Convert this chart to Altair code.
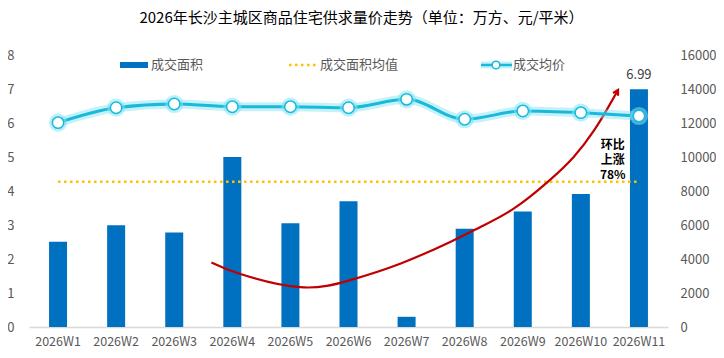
import altair as alt
import pandas as pd

FONT = "Noto Sans CJK SC"

weeks = ["2026W1", "2026W2", "2026W3", "2026W4", "2026W5", "2026W6",
         "2026W7", "2026W8", "2026W9", "2026W10", "2026W11"]
area = [2.51, 2.99, 2.78, 5.00, 3.05, 3.70, 0.30, 2.89, 3.40, 3.91, 6.99]
price = [12020, 12900, 13120, 12960, 12960, 12900, 13390, 12220, 12710, 12610, 12410]
area_avg = 4.27

# annotation arrow (x = week index, y = left-axis units)
arrow_x = [2.64, 3.14, 4.17, 5.03, 5.90, 6.76, 7.28, 7.85, 8.43, 8.88, 9.23, 9.46, 9.64]
arrow_y = [1.90, 1.56, 1.17, 1.38, 1.87, 2.51, 2.95, 3.49, 4.27, 5.01, 5.79, 6.43, 6.97]
note_lines = ["环比", "上涨", "78%"]
note_x = 9.55
note_y = [5.34, 4.91, 4.48]

left_ticks = [0, 1, 2, 3, 4, 5, 6, 7, 8]
right_ticks = [0, 2000, 4000, 6000, 8000, 10000, 12000, 14000, 16000]
legend_labels = ["成交面积", "成交面积均值", "成交均价"]
title_text = "2026年长沙主城区商品住宅供求量价走势（单位：万方、元/平米）"

BAR = "#0070c0"
GOLD = "#ffc000"
CYAN = "#19b9d9"
GLOW = "#7fe3f4"
RED = "#c00000"
GRAY = "#595959"

df = pd.DataFrame({"week": weeks, "area": area, "price": price})
avg_df = pd.DataFrame({"week": [weeks[0], weeks[-1]], "v": [area_avg, area_avg]})
arrow_df = pd.DataFrame({"ax": arrow_x, "ay": arrow_y, "o": list(range(len(arrow_x)))})
tip_df = arrow_df.tail(1)
last_df = df.tail(1)
note_df = pd.DataFrame({"nx": [note_x] * len(note_lines), "ny": note_y, "t": note_lines})
one = pd.DataFrame({"a": [0]})

xs = alt.Scale(domain=weeks, paddingInner=0, paddingOuter=0)
xq = alt.Scale(domain=[-0.5, 10.5], nice=False, zero=False)
yl = alt.Scale(domain=[0, 8], nice=False)
yr = alt.Scale(domain=[0, 16000], nice=False)

x_axis = alt.Axis(title=None, labelAngle=0, labelFont=FONT, labelFontSize=12.5,
                  labelColor=GRAY, domainColor="#d9d9d9", domainWidth=1.5,
                  ticks=False, labelPadding=8, grid=False)
yl_axis = alt.Axis(title=None, values=left_ticks, labelFont=FONT, labelFontSize=13,
                   labelColor=GRAY, domain=False, ticks=False, grid=False, labelPadding=15)
yr_axis = alt.Axis(title=None, values=right_ticks, orient="right", format="d", labelFont=FONT,
                   labelFontSize=13, labelColor=GRAY, domain=False, ticks=False,
                   grid=False, labelPadding=12)

X = lambda: alt.X("week:N", scale=xs, sort=weeks, axis=None)

bars = alt.Chart(df).mark_bar(size=18, color=BAR).encode(
    x=alt.X("week:N", scale=xs, sort=weeks, axis=x_axis),
    y=alt.Y("area:Q", scale=yl, axis=yl_axis),
)

avg_line = alt.Chart(avg_df).mark_line(color=GOLD, strokeWidth=2.5, strokeDash=[2.5, 3.5]).encode(
    x=X(), y=alt.Y("v:Q", scale=yl, axis=None)
)

last_label = alt.Chart(last_df).mark_text(dy=-14, font=FONT, fontSize=13, color="#404040").encode(
    x=X(), y=alt.Y("area:Q", scale=yl, axis=None), text=alt.Text("area:Q", format=".2f")
)

glow = alt.Chart(df).mark_line(color=GLOW, strokeWidth=9, opacity=0.45, interpolate="monotone").encode(
    x=X(), y=alt.Y("price:Q", scale=yr, axis=None)
)
pline = alt.Chart(df).mark_line(color=CYAN, strokeWidth=3, interpolate="monotone").encode(
    x=X(), y=alt.Y("price:Q", scale=yr, axis=yr_axis)
)
pglow = alt.Chart(df).mark_point(shape="circle", filled=True, color=GLOW, opacity=0.55, size=330).encode(
    x=X(), y=alt.Y("price:Q", scale=yr, axis=None)
)
ppts = alt.Chart(df).mark_point(shape="circle", filled=True, fill="white", stroke=CYAN,
                                strokeWidth=1.5, opacity=1, size=130).encode(
    x=X(), y=alt.Y("price:Q", scale=yr, axis=None)
)

arrow = alt.Chart(arrow_df).mark_line(color=RED, strokeWidth=2.2, interpolate="natural").encode(
    x=alt.X("ax:Q", scale=xq, axis=None), y=alt.Y("ay:Q", scale=yl, axis=None), order="o:Q"
)
arrow_head = alt.Chart(tip_df).mark_point(shape="M-0.75,1.3L0,0L0.75,1.3", filled=False,
                                          stroke=RED, strokeWidth=2.2, size=60, angle=30,
                                          opacity=1).encode(
    x=alt.X("ax:Q", scale=xq, axis=None), y=alt.Y("ay:Q", scale=yl, axis=None)
)
note = alt.Chart(note_df).mark_text(font=FONT, fontSize=12, fontWeight="bold", color="#000000",
                                    baseline="middle").encode(
    x=alt.X("nx:Q", scale=xq, axis=None), y=alt.Y("ny:Q", scale=yl, axis=None), text="t:N"
)

# legend
LY = 10
leg_bar = alt.Chart(one).mark_rect(color=BAR).encode(
    x=alt.value(91), x2=alt.value(119), y=alt.value(LY - 3), y2=alt.value(LY + 3))
leg_avg = alt.Chart(one).mark_rule(color=GOLD, strokeWidth=2.5, strokeDash=[2.5, 3.5]).encode(
    x=alt.value(260), x2=alt.value(288), y=alt.value(LY))
leg_line_glow = alt.Chart(one).mark_rule(color=GLOW, strokeWidth=7, opacity=0.45).encode(
    x=alt.value(452), x2=alt.value(483), y=alt.value(LY))
leg_line = alt.Chart(one).mark_rule(color=CYAN, strokeWidth=2.5).encode(
    x=alt.value(452), x2=alt.value(483), y=alt.value(LY))
leg_pt = alt.Chart(one).mark_point(shape="circle", filled=True, fill="white", stroke=CYAN,
                                   strokeWidth=1.5, size=60, opacity=1).encode(
    x=alt.value(467), y=alt.value(LY))
leg_texts = [
    alt.Chart(one).mark_text(align="left", baseline="middle", font=FONT, fontSize=13,
                             color=GRAY, text=lab).encode(x=alt.value(px), y=alt.value(LY))
    for lab, px in zip(legend_labels, [122, 291, 484])
]

chart = alt.layer(
    bars, avg_line, last_label, arrow, arrow_head, note,
    glow, pline, pglow, ppts,
    leg_bar, leg_avg, leg_line_glow, leg_line, leg_pt, *leg_texts
).resolve_scale(x="independent", y="independent").properties(
    width=639, height=272,
    autosize=alt.AutoSizeParams(type="none"),
    padding={"left": 21, "top": 47, "right": 48, "bottom": 23},
    title=alt.TitleParams(text=title_text, font=FONT, fontSize=15, fontWeight="normal",
                          color="#000000", anchor="middle", dx=13, offset=23),
).configure_view(stroke=None)

chart.save("out.html", embed_options={"renderer": "svg", "actions": False})
